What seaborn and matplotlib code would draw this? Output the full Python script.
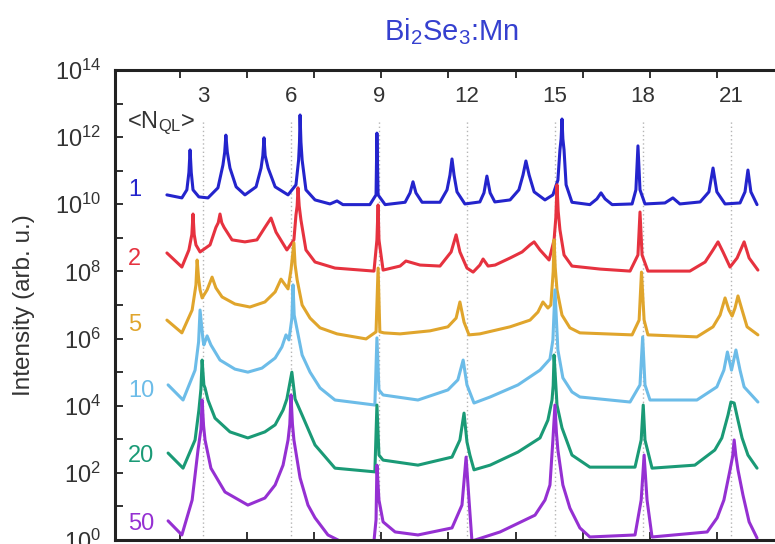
import numpy as np
import pandas as pd
import matplotlib
matplotlib.use("Agg")
import matplotlib.pyplot as plt
import matplotlib.transforms as mtransforms
from matplotlib.ticker import FixedLocator, FuncFormatter, NullLocator
import seaborn as sns

sns.set_theme(style="white")
plt.rcParams['font.family'] = ['Liberation Sans', 'DejaVu Sans']
plt.rcParams['mathtext.fontset'] = 'custom'
plt.rcParams['mathtext.rm'] = 'Liberation Sans'
plt.rcParams['mathtext.it'] = 'Liberation Sans:italic'
plt.rcParams['mathtext.bf'] = 'Liberation Sans:bold'

# ---------------- data ----------------
n_ql = ["1", "2", "5", "10", "20", "50"]
line_colors = ["#2424cc", "#e6323f", "#e0a52c", "#6cbce8", "#1a9a76", "#9530d2"]
peak_labels = [3, 6, 9, 12, 15, 18, 21]

x_1 = [1.77, 2.28, 2.45, 2.52, 2.56, 2.60, 2.66, 2.86, 3.17, 3.51, 3.68, 3.74, 3.78, 3.83, 3.92, 4.13, 4.43, 4.81, 4.98, 5.04,
       5.08, 5.12, 5.22, 5.46, 5.90, 6.17, 6.26, 6.29, 6.31, 6.34, 6.38, 6.51, 6.82, 7.33, 7.57, 7.77, 8.69, 8.90, 8.93, 8.97,
       9.21, 9.89, 10.06, 10.16, 10.26, 10.47, 11.08, 11.32, 11.42, 11.49, 11.56, 11.66, 11.93, 12.44, 12.58, 12.68, 12.79, 12.95, 13.47, 13.77,
       13.91, 14.01, 14.12, 14.29, 14.66, 14.93, 15.10, 15.17, 15.21, 15.24, 15.27, 15.31, 15.38, 15.58, 16.19, 16.43, 16.57, 16.71, 16.95, 17.63,
       17.76, 17.83, 17.90, 18.07, 18.75, 19.02, 19.26, 19.95, 20.25, 20.39, 20.52, 20.80, 21.31, 21.48, 21.58, 21.68, 21.89]
logI_1 = [10.28, 10.19, 10.43, 10.95, 11.62, 10.95, 10.43, 10.22, 10.19, 10.49, 11.17, 11.55, 12.06, 11.55, 11.08, 10.52, 10.28, 10.52, 11.08, 11.45,
          11.98, 11.45, 11.08, 10.52, 10.28, 10.58, 11.32, 11.85, 12.66, 11.85, 11.32, 10.43, 10.13, 10.01, 10.10, 9.99, 9.99, 10.28, 12.12, 10.28,
          9.99, 10.06, 10.34, 10.67, 10.34, 10.06, 10.06, 10.43, 10.87, 11.35, 10.87, 10.37, 10.01, 10.07, 10.34, 10.84, 10.34, 10.07, 10.13, 10.43,
          10.87, 11.29, 10.87, 10.37, 10.13, 10.28, 10.72, 11.62, 11.95, 12.54, 11.95, 11.62, 10.58, 10.06, 9.99, 10.16, 10.34, 10.16, 9.99, 10.01,
          10.43, 11.74, 10.43, 10.01, 10.04, 10.19, 10.01, 10.07, 10.37, 11.08, 10.37, 10.01, 10.04, 10.37, 11.02, 10.37, 9.99]

x_2 = [1.77, 2.28, 2.52, 2.62, 2.66, 2.70, 2.76, 2.90, 3.24, 3.44, 3.52, 3.58, 3.64, 3.72, 3.99, 4.43, 4.84, 5.11, 5.32, 5.49,
       5.86, 6.10, 6.17, 6.21, 6.24, 6.28, 6.34, 6.51, 6.82, 7.50, 8.83, 8.93, 8.97, 9.00, 9.14, 9.72, 9.92, 10.40, 11.08, 11.46,
       11.63, 11.76, 12.00, 12.21, 12.44, 12.55, 12.72, 12.96, 13.47, 13.88, 14.15, 14.29, 14.49, 14.80, 14.97, 15.03, 15.07, 15.11, 15.17, 15.31,
       15.58, 16.54, 17.56, 17.83, 17.90, 17.97, 18.17, 19.60, 20.12, 20.39, 20.56, 20.73, 20.97, 21.21, 21.45, 21.62, 21.92]
logI_2 = [8.55, 8.13, 8.64, 9.10, 9.71, 9.10, 8.79, 8.58, 8.79, 9.31, 9.45, 9.71, 9.45, 9.31, 8.94, 8.88, 8.94, 9.31, 9.59, 9.17,
          8.64, 8.94, 9.68, 9.95, 10.49, 9.95, 9.53, 8.64, 8.28, 8.10, 8.01, 8.94, 9.98, 8.94, 8.04, 8.16, 8.31, 8.19, 8.16, 8.58,
          9.09, 8.58, 8.10, 7.98, 8.19, 8.37, 8.16, 8.19, 8.40, 8.58, 8.79, 8.88, 8.64, 8.34, 8.94, 9.60, 10.58, 9.80, 9.24, 8.49,
          8.16, 8.07, 8.01, 8.49, 9.77, 8.49, 8.01, 8.01, 8.28, 8.64, 8.88, 8.58, 8.13, 8.40, 8.88, 8.40, 8.04]

x_5 = [1.77, 2.28, 2.63, 2.76, 2.80, 2.85, 2.90, 2.97, 3.14, 3.31, 3.44, 3.65, 4.09, 4.60, 5.11, 5.46, 5.66, 5.80, 5.90, 6.00,
       6.10, 6.14, 6.21, 6.38, 6.65, 6.99, 7.57, 8.56, 8.90, 8.97, 9.03, 9.17, 9.72, 10.74, 11.35, 11.63, 11.76, 11.90, 12.07, 12.44,
       13.47, 14.15, 14.42, 14.59, 14.76, 14.86, 14.94, 14.97, 15.01, 15.07, 15.24, 15.51, 15.85, 17.63, 17.87, 17.95, 18.04, 18.17, 19.84, 20.39,
       20.63, 20.80, 20.93, 21.04, 21.14, 21.24, 21.38, 21.55, 21.92]
logI_5 = [6.55, 6.17, 6.85, 7.60, 8.34, 7.80, 7.45, 7.21, 7.45, 7.83, 7.51, 7.24, 7.03, 6.94, 7.09, 7.39, 7.77, 7.60, 7.48, 8.04,
          8.85, 8.20, 7.75, 7.00, 6.61, 6.32, 6.14, 5.99, 6.20, 8.10, 6.20, 6.17, 6.14, 6.23, 6.35, 6.61, 7.09, 6.49, 6.11, 6.14,
          6.35, 6.55, 6.79, 7.09, 6.91, 7.00, 8.00, 8.94, 8.10, 7.45, 6.70, 6.32, 6.17, 6.11, 6.55, 7.98, 6.55, 6.11, 6.05, 6.35,
          6.70, 7.21, 6.85, 6.67, 6.91, 7.27, 6.85, 6.35, 6.11]

x_10 = [1.81, 2.32, 2.73, 2.85, 2.90, 3.00, 3.03, 3.14, 3.27, 3.58, 4.09, 4.53, 5.01, 5.46, 5.69, 5.83, 5.93, 6.03, 6.07, 6.11,
        6.21, 6.38, 6.65, 6.99, 7.50, 8.86, 8.93, 9.00, 9.14, 10.33, 11.35, 11.69, 11.87, 12.00, 12.24, 12.79, 13.74, 14.49, 14.83, 14.93,
        15.00, 15.10, 15.27, 15.58, 15.85, 17.56, 17.90, 17.99, 18.07, 18.24, 19.84, 20.52, 20.76, 20.88, 21.02, 21.17, 21.31, 21.45, 21.92]
logI_10 = [4.62, 4.17, 5.06, 5.90, 6.85, 5.96, 5.81, 6.08, 5.81, 5.36, 5.09, 5.00, 5.12, 5.42, 5.75, 6.11, 5.96, 6.60, 7.60, 6.70,
           6.26, 5.51, 5.00, 4.53, 4.17, 4.02, 6.02, 4.47, 4.32, 4.17, 4.47, 4.77, 5.36, 4.62, 4.08, 4.26, 4.62, 5.06, 5.39, 5.96,
           7.45, 5.66, 4.83, 4.41, 4.26, 4.11, 4.62, 6.05, 4.62, 4.17, 4.17, 4.56, 5.06, 5.60, 5.06, 5.66, 5.06, 4.56, 4.11]

x_20 = [1.81, 2.32, 2.73, 2.86, 2.93, 2.97, 3.03, 3.07, 3.17, 3.41, 3.92, 4.53, 5.11, 5.46, 5.73, 5.86, 5.93, 6.03, 6.14, 6.38,
        6.82, 7.50, 8.86, 8.93, 9.00, 9.14, 10.33, 11.49, 11.76, 11.90, 12.00, 12.10, 12.24, 12.79, 13.74, 14.49, 14.76, 14.90, 14.94, 14.97,
        15.07, 15.24, 15.58, 16.19, 17.73, 17.94, 18.01, 18.07, 18.31, 19.77, 20.45, 20.69, 20.90, 21.00, 21.11, 21.24, 21.38, 21.58, 21.89]
logI_20 = [2.59, 2.14, 2.98, 3.87, 4.50, 5.36, 4.62, 4.53, 4.17, 3.63, 3.22, 3.04, 3.22, 3.43, 3.87, 4.20, 4.53, 5.00, 4.20, 3.72,
           2.83, 2.14, 2.03, 4.02, 2.53, 2.38, 2.23, 2.47, 2.98, 3.78, 2.92, 2.53, 2.09, 2.23, 2.62, 3.04, 3.57, 4.17, 4.60, 5.51,
           4.02, 3.34, 2.53, 2.17, 2.17, 2.98, 4.02, 2.98, 2.14, 2.23, 2.68, 3.04, 3.72, 4.11, 4.08, 3.57, 3.04, 2.53, 2.14]

x_50 = [1.81, 2.28, 2.63, 2.83, 2.93, 2.97, 3.02, 3.07, 3.27, 3.75, 4.53, 5.11, 5.46, 5.73, 5.90, 5.96, 6.00, 6.05, 6.10, 6.31,
        6.58, 6.82, 7.26, 7.67, 8.83, 8.90, 8.93, 9.00, 9.14, 9.55, 10.33, 11.49, 11.83, 11.97, 12.07, 12.17, 13.13, 14.32, 14.66, 14.83,
        14.93, 15.00, 15.05, 15.10, 15.27, 15.51, 15.85, 16.19, 17.73, 17.94, 18.04, 18.14, 18.31, 20.19, 20.53, 20.76, 20.97, 21.06, 21.11, 21.17,
        21.24, 21.41, 21.62, 21.89]
logI_50 = [0.57, 0.15, 1.19, 2.68, 3.30, 4.17, 3.40, 2.98, 2.14, 1.43, 1.04, 1.25, 1.64, 2.23, 2.98, 3.45, 4.32, 3.45, 2.98, 1.85,
           1.04, 0.66, 0.15, -0.03, -0.03, 0.60, 2.23, 1.19, 0.54, 0.24, 0.15, 0.36, 1.04, 2.47, 1.19, -0.03, 0.24, 0.74, 1.19, 1.64,
           2.98, 4.02, 3.20, 2.68, 1.64, 0.95, 0.36, 0.09, 0.15, 1.19, 2.53, 1.19, 0.09, 0.24, 0.66, 1.19, 2.09, 2.50, 2.98, 2.50,
           2.09, 1.34, 0.54, 0.06]

label_logI = [10.43, 8.37, 6.40, 4.44, 2.50, 0.48]

series_x = [x_1, x_2, x_5, x_10, x_20, x_50]
series_logI = [logI_1, logI_2, logI_5, logI_10, logI_20, logI_50]

frames = []
for name, xs, ls in zip(n_ql, series_x, series_logI):
    frames.append(pd.DataFrame({"x": xs, "I": np.power(10.0, ls), "N": name}))
df = pd.concat(frames, ignore_index=True)

# ---------------- figure ----------------
W, H = 775, 544
fig = plt.figure(figsize=(W / 100, H / 100), dpi=100)
px_per_unit = 29.33
ax = fig.add_axes([115 / W, 4 / H, 23 * px_per_unit / W, 470 / H])
ax.set_yscale("log")

sns.lineplot(data=df, x="x", y="I", hue="N", hue_order=n_ql, palette=line_colors,
             sort=False, estimator=None, legend=False, linewidth=2.2, ax=ax)

ax.set_xlim(0, 23)
ax.set_ylim(1, 1e14)

# dotted guide lines
ax.vlines(peak_labels, 1, 10 ** 12.5, colors="#b5b5b5", linestyles=(0, (1, 2)),
          linewidth=1.0, zorder=0)

# top labels
trans = mtransforms.blended_transform_factory(ax.transData, ax.transAxes)
for p in peak_labels:
    ax.text(p, 0.943, str(p), transform=trans, ha="center", va="center",
            fontsize=16, color="#333333")

# curve labels
for name, col, ly in zip(n_ql, line_colors, label_logI):
    ax.text(0.44, 10 ** ly, name, color=col, fontsize=17, ha="left", va="center")

ax.text(0.40, 10 ** 12.42, r"<N$_\mathregular{QL}$>", fontsize=17, color="#333333",
        ha="left", va="center")

# ticks
ax.xaxis.set_major_locator(FixedLocator(np.arange(2.216, 23.0, 2.288)))
ax.xaxis.set_minor_locator(NullLocator())
ax.yaxis.set_major_locator(FixedLocator([10.0 ** k for k in range(0, 15)]))
ax.yaxis.set_minor_locator(NullLocator())


def yfmt(v, pos):
    k = int(round(np.log10(v)))
    return r"$10^{%d}$" % k if k % 2 == 0 else ""


ax.yaxis.set_major_formatter(FuncFormatter(yfmt))
ax.tick_params(axis="both", direction="in", length=6, width=1.3, color="#222222",
               top=True, bottom=True, left=True, right=True,
               labelbottom=False, labeltop=False, labelsize=17,
               labelcolor="#333333", pad=10)
ax.set_xlabel("")
ax.set_ylabel("Intensity (arb. u.)", fontsize=17.5, color="#333333")
ax.yaxis.set_label_coords(-0.118, 0.5)

for s in ax.spines.values():
    s.set_linewidth(2.2)
    s.set_color("#222222")

fig.text(451 / W, 1 - 32 / H, r"Bi$_2$Se$_3$:Mn", color="#3540cf", fontsize=21,
         ha="center", va="center")

fig.savefig("out.png", dpi=100)
